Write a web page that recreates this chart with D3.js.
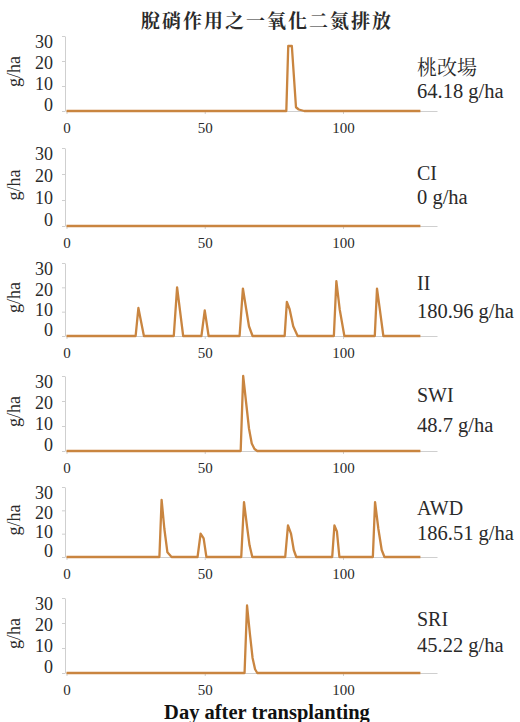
<!DOCTYPE html>
<html>
<head>
<meta charset="utf-8">
<script src="https://cdn.jsdelivr.net/npm/d3@7"></script>
</head>
<body style="margin:0;padding:0;background:#fff">
<svg id="chart" width="520" height="722" style="display:block"></svg>
<script>
// ---------- data ----------
const chartTitle = "脫硝作用之一氧化二氮排放";
const xTitle = "Day after transplanting";
const yTitle = "g/ha";
const treatments = ["桃改場", "CI", "II", "SWI", "AWD", "SRI"];
const totals = ["64.18 g/ha", "0 g/ha", "180.96 g/ha", "48.7 g/ha", "186.51 g/ha", "45.22 g/ha"];
const xTicks = [0, 50, 100];
const yTicks = [0, 10, 20, 30];

// [day, N2O flux g/ha]
const seriesTGY = [[0,0],[79.5,0],[80.2,26],[81.5,26],[83,1.5],[84,0.6],[86,0],[128,0]];
const seriesCI  = [[0,0],[128,0]];
const seriesII  = [[0,0],[25,0],[26,11.5],[28,0],
                   [38.8,0],[40,20],[42.2,0],
                   [48.8,0],[50,10.5],[51.4,0],
                   [62.6,0],[63.8,19.5],[65,11],[66,4],[67.3,0],
                   [78.9,0],[79.7,14],[80.7,11],[82,4],[83.6,0],
                   [96.7,0],[97.6,22.5],[98.8,11],[100.5,0],
                   [111.5,0],[112.3,19.5],[113.2,12],[114.6,0],[128,0]];
const seriesSWI = [[0,0],[63,0],[63.9,30],[65,19],[66,9],[67,3],[68,0.8],[69,0],[128,0]];
const seriesAWD = [[0,0],[33.6,0],[34.4,24.5],[35.4,12],[36.5,2],[38,0],
                   [47.4,0],[48.5,10],[49.6,8],[50.6,0],
                   [63.2,0],[64.2,23.5],[65.3,13],[66.2,5],[67.2,0],
                   [79.1,0],[80.1,13.5],[81.2,10],[82.2,3],[83.1,0],
                   [96.1,0],[96.9,13.5],[97.8,11],[98.7,0],
                   [110.8,0],[111.6,23.5],[112.8,12],[114,3],[115,0],[128,0]];
const seriesSRI = [[0,0],[64.4,0],[65.3,27],[66.3,16],[67.3,6],[68.2,1.5],[69,0],[128,0]];
const allSeries = [seriesTGY, seriesCI, seriesII, seriesSWI, seriesAWD, seriesSRI];

// ---------- layout ----------
const panelTop = [36, 148, 263, 376, 487, 598];     // y of value 30
const panelBase = [111, 226, 336, 451, 557, 673];   // y of value 0
const nameY = [68, 173, 283, 395, 508, 619];        // right label line 1 (centre)
const totalY = [91, 197, 311, 425, 533, 645];       // right label line 2 (centre)
const xLeft = 66.5, xRight = 437;
const xDomainMax = 134;
const SERIF = '"Liberation Serif"';
const CJK = '"Noto Serif CJK TC", "Noto Sans CJK TC"';
const lineColor = "#c98540";
const axisColor = "#cfcfcf";
const textColor = "#2a2a2a";

const svg = d3.select("#chart");
const x = d3.scaleLinear().domain([0, xDomainMax]).range([xLeft, xRight]);

svg.append("text")
  .attr("x", 267).attr("y", 28)
  .attr("text-anchor", "middle")
  .style("font-family", CJK)
  .attr("font-weight", "bold")
  .attr("font-size", 19)
  .attr("letter-spacing", 2)
  .attr("fill", textColor)
  .text(chartTitle);

treatments.forEach((name, i) => {
  const y = d3.scaleLinear().domain([0, 30]).range([panelBase[i], panelTop[i]]);
  const g = svg.append("g");

  // y axis
  const ya = g.append("g")
    .attr("transform", `translate(${xLeft - 1.5},0)`)
    .call(d3.axisLeft(y).tickValues(yTicks).tickSize(3).tickPadding(9).tickSizeOuter(0));
  ya.select(".domain").attr("stroke", axisColor);
  ya.selectAll(".tick line").attr("stroke", axisColor);
  ya.selectAll(".tick text")
    .style("font-family", SERIF).attr("font-size", 18).attr("fill", textColor)
    .attr("y", d => (d - 15) * 0.4);

  // x axis
  const xa = g.append("g")
    .attr("transform", `translate(0,${panelBase[i]})`)
    .call(d3.axisBottom(x).tickValues(xTicks).tickSize(3).tickPadding(8).tickSizeOuter(0));
  xa.select(".domain").attr("stroke", axisColor);
  xa.selectAll(".tick line").attr("stroke", axisColor);
  xa.selectAll(".tick text")
    .style("font-family", SERIF).attr("font-size", 15).attr("fill", textColor);

  // y title
  const midY = (panelTop[i] + panelBase[i]) / 2 - 2;
  g.append("text")
    .attr("transform", `translate(20,${midY}) rotate(-90)`)
    .attr("text-anchor", "middle")
    .style("font-family", SERIF)
    .attr("font-size", 18).attr("fill", textColor)
    .text(yTitle);

  // series
  const line = d3.line().x(d => x(d[0])).y(d => y(d[1]));
  g.append("path")
    .datum(allSeries[i])
    .attr("d", line)
    .attr("fill", "none")
    .attr("stroke", lineColor)
    .attr("stroke-width", 2.3)
    .attr("stroke-linejoin", "round");

  // right labels
  g.append("text")
    .attr("x", 417).attr("y", nameY[i]).attr("dy", "0.35em")
    .style("font-family", i === 0 ? CJK : SERIF)
    .attr("font-size", 20).attr("fill", textColor)
    .text(name);
  g.append("text")
    .attr("x", 417).attr("y", totalY[i]).attr("dy", "0.35em")
    .style("font-family", SERIF)
    .attr("font-size", 20.5).attr("fill", textColor)
    .text(totals[i]);
});

svg.append("text")
  .attr("x", 267).attr("y", 719)
  .attr("text-anchor", "middle")
  .style("font-family", SERIF)
  .attr("font-weight", "bold").attr("font-size", 20.5)
  .attr("fill", "#111")
  .text(xTitle);
</script>
</body>
</html>
